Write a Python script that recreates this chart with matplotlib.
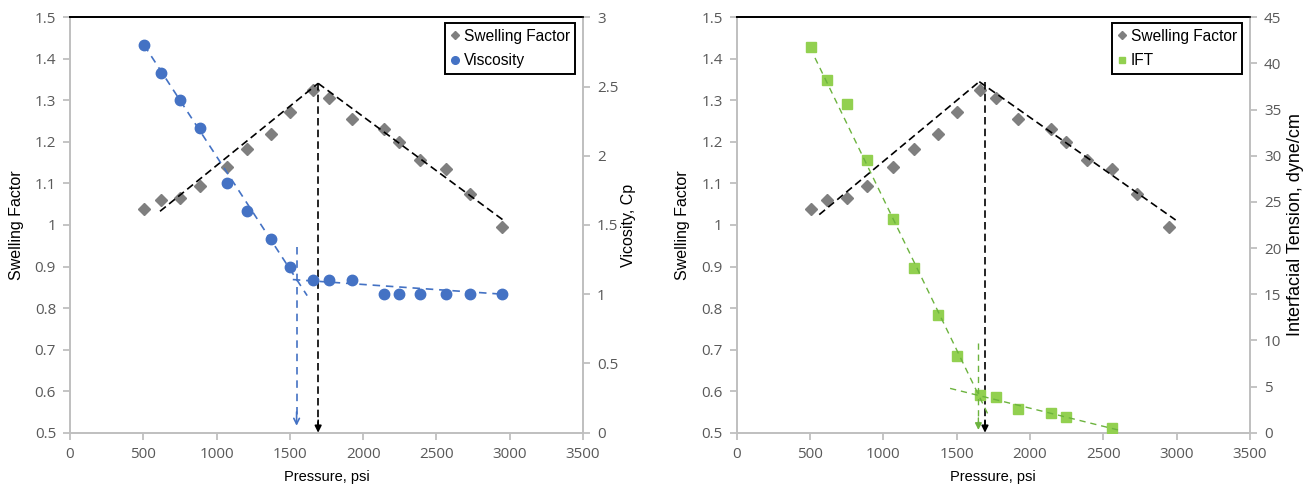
import matplotlib
matplotlib.use("Agg")
import matplotlib.pyplot as plt
from matplotlib.lines import Line2D

# ---------------- data ----------------
pressure = [505, 618, 750, 888, 1068, 1207, 1370, 1500, 1659, 1766, 1921, 2141, 2243, 2391, 2562, 2727, 2945]
swelling = [1.038, 1.060, 1.066, 1.094, 1.140, 1.183, 1.218, 1.273, 1.325, 1.306, 1.256, 1.231, 1.200, 1.157, 1.136, 1.075, 0.995]
viscosity = [2.8, 2.6, 2.4, 2.2, 1.8, 1.6, 1.4, 1.2, 1.1, 1.1, 1.1, 1.0, 1.0, 1.0, 1.0, 1.0, 1.0]

ift_pressure = [505, 618, 750, 888, 1068, 1207, 1370, 1500, 1659, 1766, 1921, 2141, 2243, 2562]
ift = [41.8, 38.2, 35.6, 29.5, 23.2, 17.8, 12.8, 8.3, 4.1, 3.9, 2.6, 2.1, 1.7, 0.5]

# trend lines (start/end)
sf_trend1_left_p = [614, 1693]
sf_trend1_left_v = [1.033, 1.341]
sf_trend2_left_p = [1693, 2955]
sf_trend2_left_v = [1.341, 1.012]
visc_trend1_p = [505, 1618]
visc_trend1_v = [2.8, 0.99]
visc_trend2_p = [1520, 2955]
visc_trend2_v = [1.106, 1.0]

sf_trend1_right_p = [563, 1654]
sf_trend1_right_v = [1.025, 1.345]
sf_trend2_right_p = [1654, 2993]
sf_trend2_right_v = [1.345, 1.012]
ift_trend1_p = [534, 1716]
ift_trend1_v = [40.6, 1.9]
ift_trend2_p = [1455, 2625]
ift_trend2_v = [4.8, 0.2]

mmp_swelling = 1693
mmp_visc = 1546
mmp_ift = 1648
visc_arrow_top = 1.34
ift_arrow_top = 9.75

xticks = [0, 500, 1000, 1500, 2000, 2500, 3000, 3500]
sf_ticks = [0.5, 0.6, 0.7, 0.8, 0.9, 1.0, 1.1, 1.2, 1.3, 1.4, 1.5]
sf_ticklabels = ["0.5", "0.6", "0.7", "0.8", "0.9", "1", "1.1", "1.2", "1.3", "1.4", "1.5"]
visc_ticks = [0, 0.5, 1, 1.5, 2, 2.5, 3]
visc_ticklabels = ["0", "0.5", "1", "1.5", "2", "2.5", "3"]
ift_ticks = [0, 5, 10, 15, 20, 25, 30, 35, 40, 45]

# ---------------- style ----------------
GRAY_SPINE = "#bfbfbf"
TICK_TXT = "#595959"
DIAMOND = "#7f7f7f"
BLUE = "#4472c4"
GREEN = "#92d050"
TICKFONT = "Open Sans"
LABFONT = "Liberation Sans"

W, H = 1304, 486
fig = plt.figure(figsize=(W / 100, H / 100), dpi=100)

def px_axes(x0, x1, ytop, ybot):
    return fig.add_axes([x0 / W, 1 - ybot / H, (x1 - x0) / W, (ybot - ytop) / H])

def style_pair(ax, ax2):
    for a in (ax, ax2):
        for s in ("left", "right", "bottom"):
            a.spines[s].set_color(GRAY_SPINE)
            a.spines[s].set_linewidth(1.4)
        a.spines["top"].set_color("black")
        a.spines["top"].set_linewidth(1.3)
        a.tick_params(colors=GRAY_SPINE, labelcolor=TICK_TXT, width=1.3, length=5,
                      labelsize=11, direction="out")
    ax.spines["right"].set_visible(False)
    ax2.spines["left"].set_visible(False)
    ax2.spines["bottom"].set_visible(False)
    ax.set_xlim(0, 3500)
    ax.set_xticks(xticks)
    ax.set_xticklabels([str(t) for t in xticks], fontfamily=TICKFONT)
    ax.set_ylim(0.5, 1.5)
    ax.set_yticks(sf_ticks)
    ax.set_yticklabels(sf_ticklabels, fontfamily=TICKFONT)
    ax.tick_params(axis="x", pad=5)
    ax.tick_params(axis="y", pad=5)
    ax2.tick_params(axis="y", pad=5)
    ax.set_xlabel("Pressure, psi", fontfamily=LABFONT, fontsize=10.5, color="black", labelpad=6)
    ax.set_ylabel("Swelling Factor", fontfamily=LABFONT, fontsize=11.5, color="black", labelpad=8)

def vertical_arrow(a, x, ytop, ybot, color, lw, dashes, filled, headlen):
    a.plot([x, x], [ytop, ybot + headlen * 0.5], color=color, lw=lw, dashes=dashes, zorder=4)
    a.annotate("", xy=(x, ybot), xytext=(x, ybot + headlen),
               arrowprops=dict(arrowstyle="-|>" if filled else "->", color=color, lw=lw,
                               mutation_scale=10, shrinkA=0, shrinkB=0), zorder=5)

# ================= left panel =================
axL = px_axes(70, 583, 17.3, 432.7)
axL2 = axL.twinx()
style_pair(axL, axL2)
axL2.set_ylim(0, 3)
axL2.set_yticks(visc_ticks)
axL2.set_yticklabels(visc_ticklabels, fontfamily=TICKFONT)
axL2.set_ylabel("Vicosity, Cp", fontfamily=LABFONT, fontsize=11.5, color="black", labelpad=2)

axL.plot(pressure, swelling, linestyle="none", marker="D", ms=6.5, color=DIAMOND, zorder=3)
axL.plot(sf_trend1_left_p, sf_trend1_left_v, color="black", lw=1.2, dashes=(4.5, 2.5), zorder=4)
axL.plot(sf_trend2_left_p, sf_trend2_left_v, color="black", lw=1.2, dashes=(4.5, 2.5), zorder=4)
vertical_arrow(axL, mmp_swelling, sf_trend1_left_v[1], 0.5, "black", 1.2, (4.5, 2.5), True, 0.03)

axL2.plot(pressure, viscosity, linestyle="none", marker="o", ms=7.5, color=BLUE, zorder=3)
axL2.plot(visc_trend1_p, visc_trend1_v, color=BLUE, lw=1.2, dashes=(4.5, 3.5), zorder=4)
axL2.plot(visc_trend2_p, visc_trend2_v, color=BLUE, lw=1.2, dashes=(4.5, 3.5), zorder=4)
vertical_arrow(axL2, mmp_visc, visc_arrow_top, 0.05, BLUE, 1.2, (4.5, 3.5), False, 0.1)

hL = [Line2D([], [], linestyle="none", marker="D", ms=4.5, color=DIAMOND),
      Line2D([], [], linestyle="none", marker="o", ms=5.5, color=BLUE)]
legL = axL2.legend(hL, ["Swelling Factor", "Viscosity"], loc="upper right",
                   bbox_to_anchor=(1 - 7.7 / 513, 1 - 6 / 415.4), borderaxespad=0,
                   frameon=True, fancybox=False, edgecolor="black", framealpha=1,
                   handlelength=0.6, handletextpad=0.25, borderpad=0.35, labelspacing=0.6,
                   prop={"family": LABFONT, "size": 11.2})
legL.get_frame().set_linewidth(1.4)

# ================= right panel =================
axR = px_axes(736.7, 1250, 17.3, 432.7)
axR2 = axR.twinx()
style_pair(axR, axR2)
axR2.set_ylim(0, 45)
axR2.set_yticks(ift_ticks)
axR2.set_yticklabels([str(t) for t in ift_ticks], fontfamily=TICKFONT)
axR2.set_ylabel("Interfacial Tension, dyne/cm", fontfamily=LABFONT, fontsize=13, color="black", labelpad=4)

axR.plot(pressure, swelling, linestyle="none", marker="D", ms=6.5, color=DIAMOND, zorder=3)
axR.plot(sf_trend1_right_p, sf_trend1_right_v, color="black", lw=1.2, dashes=(4.5, 2.5), zorder=4)
axR.plot(sf_trend2_right_p, sf_trend2_right_v, color="black", lw=1.2, dashes=(4.5, 2.5), zorder=4)
vertical_arrow(axR, mmp_swelling, sf_trend1_right_v[1], 0.5, "black", 1.2, (4.5, 2.5), True, 0.03)

axR2.plot(ift_pressure, ift, linestyle="none", marker="s", ms=7.5, color=GREEN, zorder=3)
axR2.plot(ift_trend1_p, ift_trend1_v, color="#6cb33e", lw=1.0, dashes=(4.5, 3.5), zorder=4)
axR2.plot(ift_trend2_p, ift_trend2_v, color="#6cb33e", lw=1.0, dashes=(4.5, 3.5), zorder=4)
vertical_arrow(axR2, mmp_ift, ift_arrow_top, 0.3, "#6cb33e", 1.0, (4.5, 3.5), True, 1.3)

hR = [Line2D([], [], linestyle="none", marker="D", ms=4.5, color=DIAMOND),
      Line2D([], [], linestyle="none", marker="s", ms=5, color=GREEN)]
legR = axR2.legend(hR, ["Swelling Factor", "IFT"], loc="upper right",
                   bbox_to_anchor=(1 - 7.7 / 513, 1 - 6 / 415.4), borderaxespad=0,
                   frameon=True, fancybox=False, edgecolor="black", framealpha=1,
                   handlelength=0.6, handletextpad=0.25, borderpad=0.35, labelspacing=0.6,
                   prop={"family": LABFONT, "size": 11.2})
legR.get_frame().set_linewidth(1.4)

fig.savefig("out.png", dpi=100)
